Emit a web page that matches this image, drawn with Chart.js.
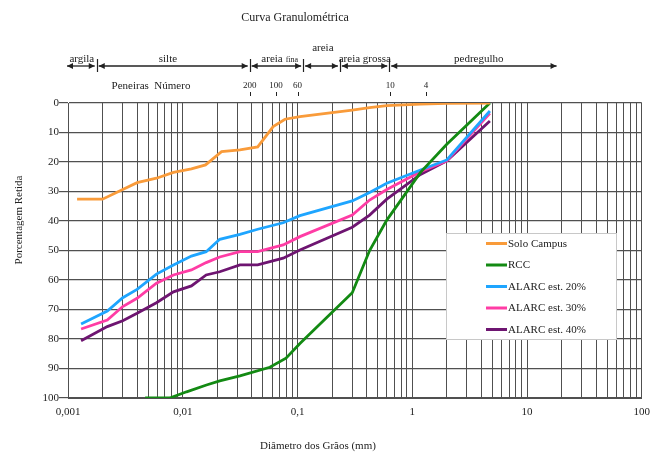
<!DOCTYPE html>
<html><head><meta charset="utf-8">
<script src="https://cdn.jsdelivr.net/npm/chart.js@4.4.1/dist/chart.umd.min.js"></script>
<style>html,body{margin:0;padding:0;background:#fff}canvas{display:block}</style>
</head><body>
<canvas id="c" width="658" height="454"></canvas>
<script>
// ---- Data (diameter in mm, percentage retained) ----
const seriesLabels = ["Solo Campus", "RCC", "ALARC est. 20%", "ALARC est. 30%", "ALARC est. 40%"];
const seriesColors = ["#F99B3A", "#138A13", "#1EA5FF", "#FF3CA5", "#6E1571"];

const soloX = [0.0012, 0.002, 0.003, 0.004, 0.0059, 0.0083, 0.0119, 0.0158, 0.0218, 0.0315, 0.045, 0.0614, 0.0778, 0.105, 0.3, 0.425, 0.6, 1.18, 2.0, 4.75];
const soloY = [32.6, 32.6, 29.3, 27.0, 25.5, 23.5, 22.3, 21.0, 16.5, 15.9, 14.9, 8.0, 5.5, 4.6, 2.4, 1.6, 0.9, 0.4, 0.1, 0];

const rccX = [0.0047, 0.0077, 0.0108, 0.0161, 0.021, 0.0315, 0.0574, 0.0794, 0.105, 0.3, 0.425, 0.6, 1.18, 2.0, 4.75];
const rccY = [100, 100, 97.9, 95.6, 94.2, 92.5, 89.6, 86.5, 81.5, 64.3, 50.0, 39.7, 23.5, 14.0, 0];

const alarcX = [0.0013, 0.0022, 0.003, 0.004, 0.0059, 0.0083, 0.0119, 0.016, 0.021, 0.0315, 0.045, 0.075, 0.105, 0.3, 0.425, 0.6, 1.18, 2.0, 4.75];
const alarc20Y = [74.9, 70.5, 66.0, 63.2, 58.0, 54.9, 51.9, 50.4, 46.2, 44.5, 42.8, 40.6, 38.2, 33.2, 30.3, 27.2, 22.7, 19.3, 2.7];
const alarc30Y = [76.6, 73.6, 69.0, 66.2, 61.1, 58.3, 56.6, 54.1, 52.2, 50.4, 50.4, 48.1, 45.3, 38.0, 32.9, 29.3, 23.3, 19.6, 3.5];
const alarc40Y = [80.6, 75.8, 73.8, 71.3, 67.7, 64.0, 62.0, 58.3, 57.2, 54.9, 54.9, 52.6, 49.8, 42.1, 38.0, 32.6, 24.2, 19.6, 6.1];

// ---- Header annotations (positions in mm along the x axis) ----
const classBounds = [0.001, 0.00178, 0.0383, 0.112, 0.234, 0.63, 18.1];
const classNames = ["argila", "silte", "areia", "areia", "areia grossa", "pedregulho"];
const classLabelPos = [0.00132, 0.00743, 0.0596, 0.1664, 0.386, 3.8];
const sieveLabels = ["200", "100", "60", "10", "4"];
const sievePos = [0.0383, 0.0649, 0.1002, 0.642, 1.32];

const xTickMin = 0.001, xTickMax = 100;
const yTicks = [0, 10, 20, 30, 40, 50, 60, 70, 80, 90, 100];

const SERIF = "'Liberation Serif', 'DejaVu Serif', serif";

function pts(xs, ys) { return xs.map((x, i) => ({ x: x, y: ys[i] })); }
const allY = [soloY, rccY, alarc20Y, alarc30Y, alarc40Y];
const allX = [soloX, rccX, alarcX, alarcX, alarcX];

const datasets = seriesLabels.map((lab, i) => ({
  label: lab,
  data: pts(allX[i], allY[i]),
  borderColor: seriesColors[i],
  backgroundColor: seriesColors[i],
  borderWidth: 2.8,
  pointRadius: 0,
  tension: 0,
  fill: false
}));

const headerPlugin = {
  id: 'header',
  afterDraw(chart) {
    const ctx = chart.ctx, xs = chart.scales.x;
    const px = v => xs.getPixelForValue(v);
    ctx.save();
    ctx.fillStyle = '#222';
    ctx.strokeStyle = '#222';
    // title
    ctx.font = '12px ' + SERIF;
    ctx.textAlign = 'center'; ctx.textBaseline = 'alphabetic';
    ctx.fillText('Curva Granulométrica', 295, 21);
    // arrows
    const ay = 66;
    ctx.lineWidth = 1.3;
    function head(x, dir) {
      ctx.beginPath();
      ctx.moveTo(x, ay);
      ctx.lineTo(x - dir * 6, ay - 3);
      ctx.lineTo(x - dir * 6, ay + 3);
      ctx.closePath(); ctx.fill();
    }
    for (let i = 0; i < classBounds.length - 1; i++) {
      let x1 = px(classBounds[i]) + (i === 0 ? -1 : 2);
      let x2 = px(classBounds[i + 1]) - (i === classBounds.length - 2 ? 0 : 2);
      ctx.beginPath(); ctx.moveTo(x1, ay); ctx.lineTo(x2, ay); ctx.stroke();
      head(x1, -1); head(x2, 1);
    }
    ctx.lineWidth = 1.2;
    for (let i = 1; i < classBounds.length - 1; i++) {
      const x = Math.round(px(classBounds[i])) + 0.5;
      ctx.beginPath(); ctx.moveTo(x, ay - 7); ctx.lineTo(x, ay + 6); ctx.stroke();
    }
    // class labels
    ctx.font = '11px ' + SERIF;
    ctx.textAlign = 'center';
    for (let i = 0; i < classNames.length; i++) {
      const x = px(classLabelPos[i]);
      if (i === 2) {
        ctx.font = '11px ' + SERIF; ctx.textAlign = 'right';
        ctx.fillText('areia', x + 11, 62);
        ctx.font = '8px ' + SERIF; ctx.textAlign = 'left';
        ctx.fillText('fina', x + 14, 62);
        ctx.textAlign = 'center'; ctx.font = '11px ' + SERIF;
      } else if (i === 3) {
        ctx.fillText(classNames[i], x, 51);
      } else {
        ctx.fillText(classNames[i], x, 62);
      }
    }
    // sieves
    ctx.font = '11px ' + SERIF; ctx.textAlign = 'center';
    ctx.fillText('Peneiras  Número', 151, 89);
    ctx.font = '9px ' + SERIF;
    ctx.lineWidth = 1;
    for (let i = 0; i < sieveLabels.length; i++) {
      const x = px(sievePos[i]);
      ctx.fillText(sieveLabels[i], x, 88);
      const xr = Math.round(x) + 0.5;
      ctx.beginPath(); ctx.moveTo(xr, 92); ctx.lineTo(xr, 96); ctx.stroke();
    }
    // axis titles
    ctx.font = '11px ' + SERIF;
    ctx.textAlign = 'center'; ctx.textBaseline = 'middle';
    ctx.fillText('Diâmetro dos Grãos (mm)', 318, 446);
    ctx.save();
    ctx.translate(19, 220); ctx.rotate(-Math.PI / 2);
    ctx.fillText('Porcentagem Retida', 0, 0);
    ctx.restore();
    // legend
    const lx = 446, ly = 233, lw = 170, lh = 106;
    ctx.fillStyle = '#fff';
    ctx.fillRect(lx, ly, lw, lh);
    ctx.strokeStyle = '#c8c8c8'; ctx.lineWidth = 1;
    ctx.strokeRect(lx + 0.5, ly + 0.5, lw, lh);
    ctx.font = '11px ' + SERIF; ctx.textAlign = 'left'; ctx.textBaseline = 'middle';
    chart.data.datasets.forEach((ds, i) => {
      const y = 243.5 + i * 21.5;
      ctx.strokeStyle = ds.borderColor; ctx.lineWidth = 3;
      ctx.beginPath(); ctx.moveTo(486, y); ctx.lineTo(507, y); ctx.stroke();
      ctx.fillStyle = '#222';
      ctx.fillText(ds.label, 508, y + 0.5);
    });
    ctx.restore();
  }
};

new Chart(document.getElementById('c'), {
  type: 'line',
  data: { datasets: datasets },
  plugins: [headerPlugin],
  options: {
    responsive: false,
    devicePixelRatio: 1,
    animation: false,
    layout: { padding: { top: 103, right: 16, left: 0, bottom: 0 } },
    plugins: { legend: { display: false }, tooltip: { enabled: false }, title: { display: false } },
    scales: {
      x: {
        type: 'logarithmic',
        min: xTickMin, max: xTickMax,
        afterFit(s) { s.height = 56; },
        afterBuildTicks(s) {
          const t = [];
          for (let e = Math.log10(xTickMin); e < Math.log10(xTickMax); e++) {
            for (let m = 1; m <= 9; m++) t.push({ value: m * Math.pow(10, e), major: m === 1 });
          }
          t.push({ value: xTickMax, major: true });
          s.ticks = t;
        },
        ticks: {
          autoSkip: false, maxRotation: 0, padding: 8,
          color: '#222',
          font: { family: SERIF, size: 11 },
          callback(v) {
            const l = Math.log10(v);
            if (Math.abs(l - Math.round(l)) > 1e-9) return '';
            return String(Number(v.toPrecision(3))).replace('.', ',');
          }
        },
        grid: { color: '#505050', lineWidth: 1, drawTicks: false },
        border: { color: '#505050' }
      },
      y: {
        type: 'linear',
        reverse: true,
        min: 0, max: 100,
        afterFit(s) { s.width = 68; },
        afterBuildTicks(s) { s.ticks = yTicks.map(v => ({ value: v })); },
        ticks: {
          padding: 0, color: '#222',
          font: { family: SERIF, size: 11 }
        },
        grid: { color: '#505050', lineWidth: 1.2, tickLength: 9 },
        border: { color: '#505050' }
      }
    }
  }
});
</script>
</body></html>
